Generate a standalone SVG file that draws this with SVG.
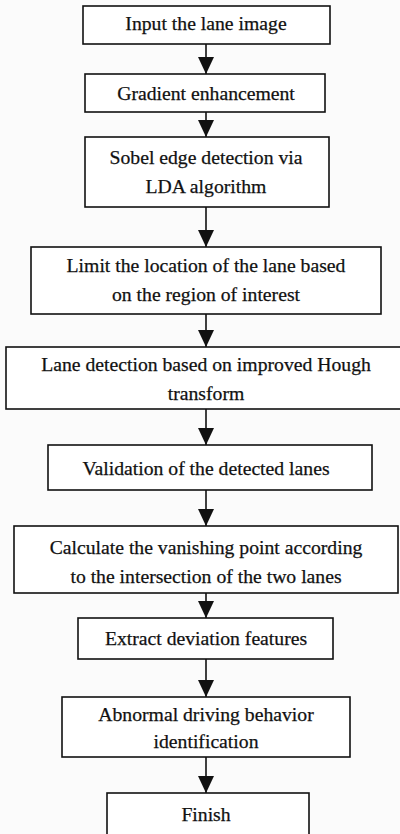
<svg xmlns="http://www.w3.org/2000/svg" width="400" height="834" viewBox="0 0 400 834">
<style>
.box{fill:#fff;stroke:#111;stroke-width:1.6}
.t{font-family:"Liberation Serif","Times New Roman",serif;font-size:19.7px;fill:#111;stroke:#111;stroke-width:0.25;text-anchor:middle}
.c{stroke:#111;stroke-width:1.6;fill:none;marker-end:url(#ah)}
</style>
<defs>
<marker id="ah" markerUnits="userSpaceOnUse" markerWidth="18" markerHeight="16" refX="17" refY="8" orient="auto">
<path d="M0,0 L17,8 L0,16 Z" fill="#111"/>
</marker>
</defs>
<rect width="400" height="834" fill="#fbfbfb"/>
<g id="connectors">
<line class="c" x1="206" y1="44" x2="206" y2="74"/>
<line class="c" x1="206" y1="112" x2="206" y2="137"/>
<line class="c" x1="206" y1="207" x2="206" y2="247"/>
<line class="c" x1="206" y1="314" x2="206" y2="347"/>
<line class="c" x1="206" y1="409" x2="206" y2="445"/>
<line class="c" x1="206" y1="490" x2="206" y2="526"/>
<line class="c" x1="206" y1="593" x2="206" y2="618"/>
<line class="c" x1="206" y1="659" x2="206" y2="697"/>
<line class="c" x1="206" y1="757" x2="206" y2="793"/>
</g>
<g id="n1"><rect class="box" x="83" y="6" width="247" height="38"/><text class="t" x="206" y="30">Input the lane image</text></g>
<g id="n2"><rect class="box" x="85" y="74" width="240" height="38"/><text class="t" x="206" y="100">Gradient enhancement</text></g>
<g id="n3"><rect class="box" x="85" y="137" width="244" height="70"/><text class="t" x="206" y="164">Sobel edge detection via</text><text class="t" x="206" y="193">LDA algorithm</text></g>
<g id="n4"><rect class="box" x="31" y="247" width="350" height="67"/><text class="t" x="206" y="272">Limit the location of the lane based</text><text class="t" x="206" y="301">on the region of interest</text></g>
<g id="n5"><rect class="box" x="6" y="347" width="400" height="62"/><text class="t" x="206" y="371">Lane detection based on improved Hough</text><text class="t" x="206" y="400">transform</text></g>
<g id="n6"><rect class="box" x="48" y="445" width="324" height="45"/><text class="t" x="206" y="475">Validation of the detected lanes</text></g>
<g id="n7"><rect class="box" x="14" y="526" width="384" height="67"/><text class="t" x="206" y="554">Calculate the vanishing point according</text><text class="t" x="206" y="583">to the intersection of the two lanes</text></g>
<g id="n8"><rect class="box" x="78" y="618" width="255" height="41"/><text class="t" x="206" y="645">Extract deviation features</text></g>
<g id="n9"><rect class="box" x="62" y="697" width="288" height="60"/><text class="t" x="206" y="721">Abnormal driving behavior</text><text class="t" x="206" y="748">identification</text></g>
<g id="n10"><rect class="box" x="107" y="793" width="202" height="45"/><text class="t" x="206" y="821">Finish</text></g>
</svg>
